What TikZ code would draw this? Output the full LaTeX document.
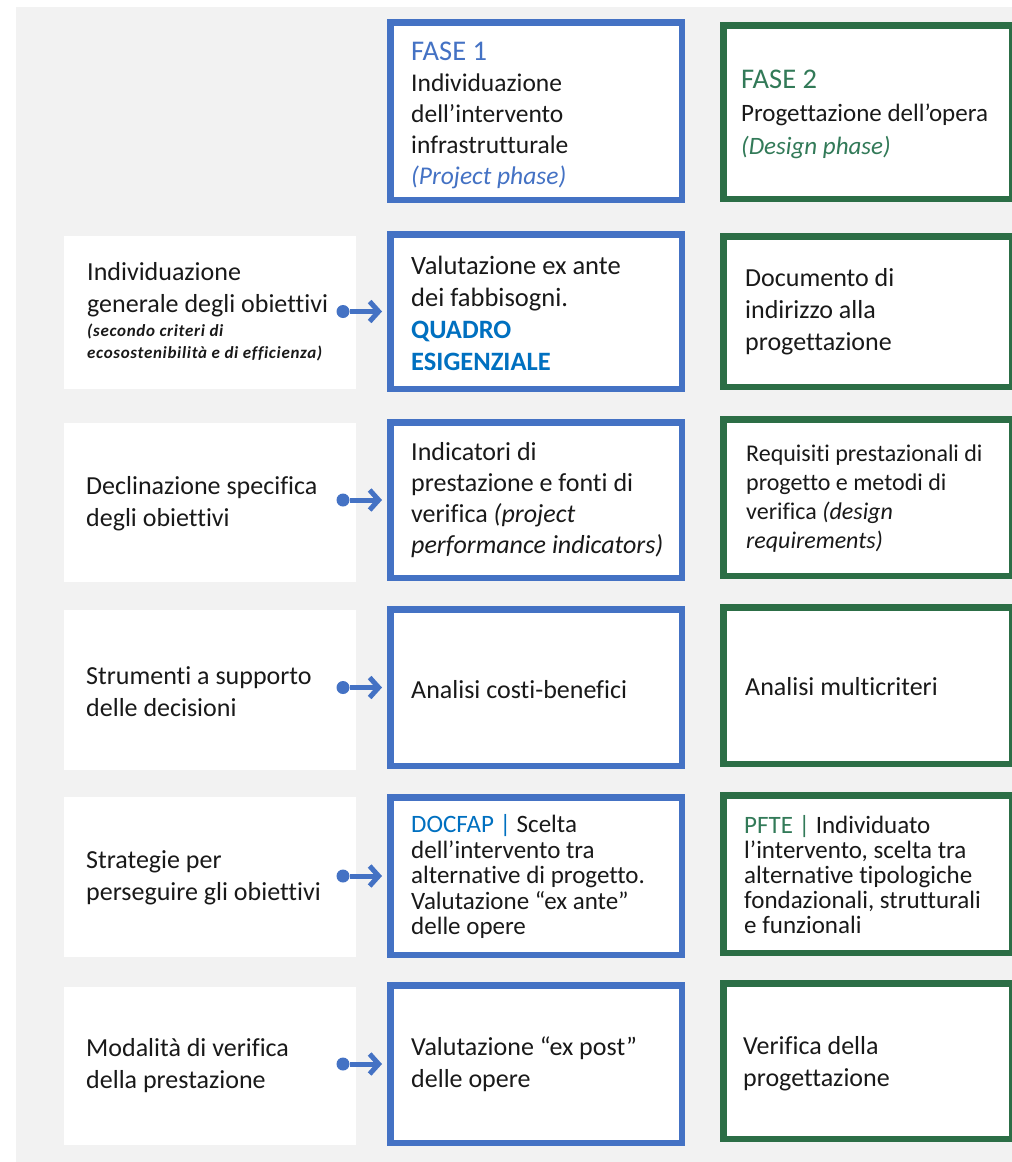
\documentclass[tikz,border=0pt]{standalone}
\usepackage{fontspec}
\setmainfont{Carlito}[Ligatures={TeX,NoCommon}]
\newfontfamily\smallfam{Carlito}[Ligatures={TeX,NoCommon},LetterSpace=4]
\usetikzlibrary{arrows.meta}
\definecolor{blueC}{RGB}{68,114,196}
\definecolor{greenC}{RGB}{44,110,70}
\definecolor{blueT}{RGB}{0,112,192}
\definecolor{greenT}{RGB}{50,122,88}
\definecolor{bgC}{RGB}{242,242,242}
\definecolor{txtC}{RGB}{25,25,25}
\newcommand\smallf{\smallfam\fontsize{17}{20}\selectfont\bfseries\itshape}
\begin{document}
\begin{tikzpicture}[x=1pt,y=-1pt,
  bbox/.style={draw=blueC,line width=6.5pt,fill=white,inner sep=0pt,minimum width=291.5pt},
  gbox/.style={draw=greenC,line width=6.5pt,fill=white,inner sep=0pt,minimum width=288.5pt},
  lbox/.style={fill=white,inner sep=0pt,minimum width=292pt},
  txt/.style={anchor=west,align=left,inner sep=0pt,text=txtC,font=\fontsize{26}{32}\selectfont},
  dotn/.style={circle,fill=blueC,minimum size=13pt,inner sep=0pt},
  conn/.style={draw=blueC,line width=5pt,-{Straight Barb[length=9pt,width=20pt]},shorten >=5pt}]
\useasboundingbox (0,0) rectangle (1012,1162);
\fill[white] (0,0) rectangle (1012,1162);
\fill[bgC] (16,7) rectangle (1012,1162);

% header row
\node[bbox,minimum height=177.5pt] (b0) at (536,111) {};
\node[gbox,minimum height=173.5pt] (g0) at (867.5,112) {};
% row 1
\node[lbox,minimum height=153pt] (l1) at (210,312.5) {};
\node[bbox,minimum height=154.5pt] (b1) at (536,311.5) {};
\node[gbox,minimum height=150.5pt] (g1) at (867.5,311.5) {};
% row 2
\node[lbox,minimum height=159pt] (l2) at (210,502.5) {};
\node[bbox,minimum height=155.5pt] (b2) at (536,500) {};
\node[gbox,minimum height=156.5pt] (g2) at (867.5,497.5) {};
% row 3
\node[lbox,minimum height=160pt] (l3) at (210,690) {};
\node[bbox,minimum height=156.5pt] (b3) at (536,687.5) {};
\node[gbox,minimum height=156.5pt] (g3) at (867.5,685.5) {};
% row 4
\node[lbox,minimum height=160pt] (l4) at (210,877) {};
\node[bbox,minimum height=157.5pt] (b4) at (536,876) {};
\node[gbox,minimum height=157.5pt] (g4) at (867.5,874) {};
% row 5
\node[lbox,minimum height=158pt] (l5) at (210,1066) {};
\node[bbox,minimum height=157.5pt] (b5) at (536,1064) {};
\node[gbox,minimum height=155.5pt] (g5) at (867.5,1061) {};

% texts
\node[txt,font=\fontsize{25.5}{31}\selectfont] (b0t) at (411,115) {{\fontsize{28.5}{31}\selectfont\color{blueC}FASE 1}\\Individuazione\\dell’intervento\\infrastrutturale\\{\color{blueC}\itshape (Project phase)}};
\node[txt,font=\fontsize{25}{33}\selectfont] (g0t) at (741,114) {{\fontsize{28.5}{33}\selectfont\color{greenT}FASE 2}\\Progettazione dell’opera\\{\color{greenT}\itshape (Design phase)}};

\node[txt] (l1t) at (87,312) {Individuazione\\generale degli obiettivi\\[-8pt]{\smallf (secondo criteri di}\\[-10pt]{\smallf ecosostenibilità e di efficienza)}};
\node[txt,font=\fontsize{26.5}{32}\selectfont] (b1t) at (411,313) {Valutazione ex ante\\dei fabbisogni.\\{\color{blueT}\bfseries QUADRO}\\{\color{blueT}\bfseries ESIGENZIALE}};
\node[txt] (g1t) at (745,312) {Documento di\\indirizzo alla\\progettazione};

\node[txt] (l2t) at (86,504) {Declinazione specifica\\degli obiettivi};
\node[txt,font=\fontsize{26}{31}\selectfont] (b2t) at (411,500) {Indicatori di\\prestazione e fonti di\\verifica {\itshape (project}\\{\itshape performance indicators)}};
\node[txt,font=\fontsize{24}{29}\selectfont] (g2t) at (746,499) {Requisiti prestazionali di\\progetto e metodi di\\verifica {\itshape (design}\\{\itshape requirements)}};

\node[txt] (l3t) at (86,691.5) {Strumenti a supporto\\delle decisioni};
\node[txt] (b3t) at (411,690) {Analisi costi-benefici};
\node[txt] (g3t) at (745,687) {Analisi multicriteri};

\node[txt] (l4t) at (86,877.5) {Strategie per\\perseguire gli obiettivi};
\node[txt,font=\fontsize{25}{25.5}\selectfont] (b4t) at (411,876.5) {{\color{blueT}DOCFAP |} Scelta\\dell’intervento tra\\alternative di progetto.\\Valutazione “ex ante”\\delle opere};
\node[txt,font=\fontsize{25}{25}\selectfont] (g4t) at (744,875) {{\color{greenT}PFTE |} Individuato\\l’intervento, scelta tra\\alternative tipologiche\\fondazionali, strutturali\\e funzionali};

\node[txt] (l5t) at (86,1066) {Modalità di verifica\\della prestazione};
\node[txt] (b5t) at (411,1064) {Valutazione “ex post”\\delle opere};
\node[txt] (g5t) at (743,1063.5) {Verifica della\\progettazione};

% connectors
\node[dotn] (a1) at (343,311.5) {};
\node[dotn] (a2) at (343,500) {};
\node[dotn] (a3) at (343,687.5) {};
\node[dotn] (a4) at (343,876) {};
\node[dotn] (a5) at (343,1064) {};
\draw[conn] (a1) -- (b1);
\draw[conn] (a2) -- (b2);
\draw[conn] (a3) -- (b3);
\draw[conn] (a4) -- (b4);
\draw[conn] (a5) -- (b5);
\end{tikzpicture}
\end{document}
